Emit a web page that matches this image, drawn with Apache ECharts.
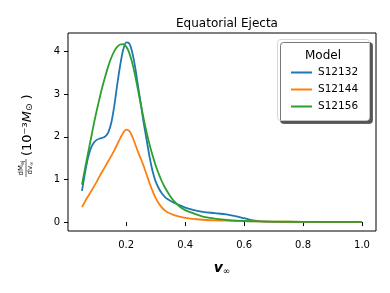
<!DOCTYPE html>
<html><head><meta charset="utf-8">
<script src="https://cdn.jsdelivr.net/npm/echarts@6/dist/echarts.min.js"></script>
<style>html,body{margin:0;padding:0;background:#fff}#c{width:390px;height:293px}</style>
</head><body><div id="c"></div>
<script>
const xTicks = [0.2, 0.4, 0.6, 0.8, 1.0];
const yTicks = [0, 1, 2, 3, 4];
const seriesNames = ['S12132', 'S12144', 'S12156'];
const colors = ['#1f77b4', '#ff7f0e', '#2ca02c'];

const s12132 = [[0.05,0.73],[0.06,1.15],[0.07,1.5],[0.08,1.73],[0.09,1.86],[0.10,1.93],[0.11,1.96],[0.12,1.98],[0.13,2.02],[0.14,2.12],[0.15,2.35],[0.16,2.75],[0.17,3.25],[0.18,3.7],[0.19,4.05],[0.20,4.22],[0.21,4.2],[0.22,4.0],[0.23,3.65],[0.24,3.2],[0.25,2.75],[0.26,2.3],[0.27,1.9],[0.28,1.5],[0.29,1.18],[0.30,0.95],[0.31,0.8],[0.32,0.68],[0.33,0.6],[0.34,0.54],[0.36,0.46],[0.38,0.4],[0.40,0.34],[0.43,0.28],[0.46,0.24],[0.50,0.21],[0.54,0.18],[0.57,0.14],[0.60,0.09],[0.63,0.04],[0.66,0.015],[0.70,0.005],[0.80,0.002],[0.90,0.001],[1.0,0.0]];
const s12144 = [[0.05,0.35],[0.06,0.48],[0.07,0.6],[0.08,0.71],[0.09,0.83],[0.10,0.95],[0.11,1.08],[0.12,1.2],[0.13,1.32],[0.14,1.44],[0.15,1.56],[0.16,1.69],[0.17,1.83],[0.18,1.97],[0.19,2.1],[0.20,2.17],[0.21,2.14],[0.22,2.02],[0.23,1.84],[0.24,1.65],[0.25,1.48],[0.26,1.3],[0.27,1.1],[0.28,0.9],[0.29,0.72],[0.30,0.56],[0.31,0.44],[0.32,0.35],[0.33,0.28],[0.34,0.23],[0.36,0.17],[0.38,0.13],[0.40,0.1],[0.45,0.06],[0.50,0.04],[0.55,0.03],[0.60,0.02],[0.70,0.01],[0.80,0.005],[1.0,0.002]];
const s12156 = [[0.05,0.88],[0.06,1.25],[0.07,1.6],[0.08,1.95],[0.09,2.3],[0.10,2.62],[0.11,2.92],[0.12,3.2],[0.13,3.45],[0.14,3.68],[0.15,3.87],[0.16,4.02],[0.17,4.12],[0.18,4.17],[0.19,4.18],[0.20,4.12],[0.21,3.98],[0.22,3.75],[0.23,3.45],[0.24,3.1],[0.25,2.75],[0.26,2.4],[0.27,2.08],[0.28,1.8],[0.29,1.55],[0.30,1.33],[0.31,1.14],[0.32,0.97],[0.33,0.83],[0.34,0.71],[0.35,0.6],[0.36,0.51],[0.38,0.37],[0.40,0.28],[0.43,0.2],[0.46,0.13],[0.50,0.08],[0.55,0.045],[0.60,0.025],[0.65,0.015],[0.70,0.01],[0.80,0.005],[1.0,0.002]];
const seriesData = [s12132, s12144, s12156];

const FF = 'DejaVu Sans';
const chart = echarts.init(document.getElementById('c'), null, {renderer: 'canvas'});
chart.setOption({
  animation: false,
  backgroundColor: '#fff',
  textStyle: {fontFamily: FF},
  title: {
    text: 'Equatorial Ejecta', left: 222, top: 13, textAlign: 'center',
    textStyle: {fontFamily: FF, fontSize: 12, fontWeight: 'normal', color: '#000'}
  },
  grid: {left: 68, top: 33, width: 308, height: 198, show: true, borderColor: '#000', borderWidth: 1, backgroundColor: 'transparent'},
  xAxis: {
    type: 'value', min: 0.0025, max: 1.0475,
    axisLine: {show: false},
    splitLine: {show: false},
    axisTick: {show: true, inside: false, length: 4, customValues: xTicks, lineStyle: {color: '#000'}},
    axisLabel: {customValues: xTicks, margin: 9, color: '#000', fontSize: 10, fontFamily: FF, formatter: v => v.toFixed(1)},
    name: '{v|v}{s|∞}', nameLocation: 'middle', nameGap: 30,
    nameTextStyle: {rich: {
      v: {fontFamily: FF, fontSize: 14, fontStyle: 'italic', fontWeight: 'bold', color: '#000'},
      s: {fontFamily: FF, fontSize: 9, color: '#000', verticalAlign: 'bottom', padding: [6,0,0,0]}
    }}
  },
  yAxis: {
    type: 'value', min: -0.21, max: 4.44,
    axisLine: {show: false},
    splitLine: {show: false},
    axisTick: {show: true, inside: false, length: 4, customValues: yTicks, lineStyle: {color: '#000'}},
    axisLabel: {customValues: yTicks, margin: 8, color: '#000', fontSize: 10, fontFamily: FF}
  },
  legend: {
    data: seriesNames, orient: 'vertical', left: 286, top: 62, z: 100,
    icon: 'rect', itemWidth: 21, itemHeight: 2, itemGap: 6,
    textStyle: {fontFamily: FF, fontSize: 10.5, color: '#000', padding: [0,0,0,1]}
  },
  graphic: [
    {type: 'rect', z: 50, shape: {x: 277.5, y: 39.5, width: 92, height: 81, r: 3},
     style: {fill: '#fff', stroke: '#ccc', lineWidth: 0.8, shadowColor: '#555', shadowOffsetX: 3, shadowOffsetY: 3, shadowBlur: 0}},
    {type: 'text', z: 51, x: 323, y: 56, style: {text: 'Model', fontFamily: FF, fontSize: 12, fill: '#000', align: 'center', verticalAlign: 'middle'}},
    {type: 'group', x: 26, y: 168, rotation: Math.PI/2, children: [
      {type: 'line', shape: {x1: -9, y1: 0, x2: 9, y2: 0}, style: {stroke: '#000', lineWidth: 0.6}},
      {type: 'text', x: 0, y: -1, style: {text: '{a|dM}{b|ej}', align: 'center', verticalAlign: 'bottom', fill: '#000',
        rich: {a: {fontFamily: FF, fontSize: 7}, b: {fontFamily: FF, fontSize: 5, verticalAlign: 'bottom'}}}},
      {type: 'text', x: 0, y: 1, style: {text: '{a|dv}{b|∞}', align: 'center', verticalAlign: 'top', fill: '#000',
        rich: {a: {fontFamily: FF, fontSize: 7}, b: {fontFamily: FF, fontSize: 5, verticalAlign: 'bottom'}}}},
      {type: 'text', x: 12, y: 2, style: {text: '{a|(10⁻³}{m|M}{o|⊙}{a| )}', align: 'left', verticalAlign: 'middle', fill: '#000',
        rich: {a: {fontFamily: FF, fontSize: 13}, m: {fontFamily: FF, fontSize: 13, fontStyle: 'italic'}, o: {fontFamily: FF, fontSize: 9, verticalAlign: 'bottom'}}}}
    ]}
  ],
  series: seriesNames.map((n, i) => ({
    name: n, type: 'line', data: seriesData[i], symbol: 'none', smooth: 0.3,
    lineStyle: {color: colors[i], width: 1.8}, itemStyle: {color: colors[i]}, z: 3 + i
  }))
});
</script></body></html>
